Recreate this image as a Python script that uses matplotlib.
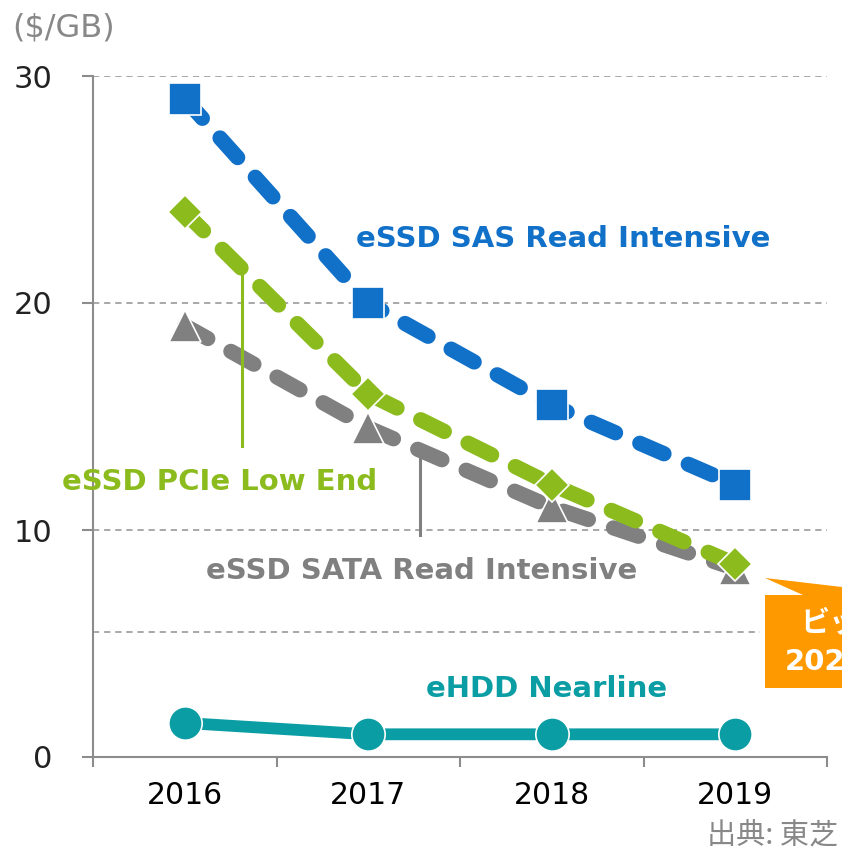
import numpy as np
import matplotlib.pyplot as plt
from matplotlib.patches import Polygon

plt.rcParams['font.family'] = ['DejaVu Sans', 'Noto Sans CJK JP']
plt.rcParams['lines.scale_dashes'] = False

# data
years = ['2016', '2017', '2018', '2019']
sas_read = [29.0, 20.0, 15.5, 12.0]
pcie_low = [24.0, 16.0, 12.0, 8.5]
sata_read = [19.0, 14.5, 11.0, 8.3]
hdd_nearline = [1.5, 1.0, 1.0, 1.0]
y_ticks = [0, 10, 20, 30]

blue = '#1170C8'
green = '#8CBB1E'
gray = '#808080'
teal = '#0A9DA4'
orange = '#FF9900'

fig = plt.figure(figsize=(8.42, 8.5), dpi=100)
ax = fig.add_axes([93 / 842, 1 - 757 / 850, (827 - 93) / 842, (757 - 76) / 850])
x = np.arange(len(years))

# grid lines
for v in [10, 20, 30]:
    ax.axhline(v, xmin=0, xmax=1, color='#999999', lw=1.2, dashes=(4.5, 3.5), zorder=1)
ax.axhline(5.5, xmin=0, xmax=(760 - 93) / (827 - 93), color='#999999', lw=1.2,
           dashes=(4.5, 3.5), zorder=1)

dash = (19, 19)
ax.plot(x, sata_read, color=gray, lw=11, dashes=dash, dash_capstyle='round', zorder=3)
ax.plot(x, pcie_low, color=green, lw=11, dashes=dash, dash_capstyle='round', zorder=4)
ax.plot(x, sas_read, color=blue, lw=11, dashes=dash, dash_capstyle='round', zorder=5)
ax.plot(x, hdd_nearline, color=teal, lw=8.5, solid_capstyle='butt', zorder=5)

ax.plot(x, sata_read, ls='none', marker='^', ms=23, color=gray, mec='white', mew=1.2, zorder=6, clip_on=False)
ax.plot(x, pcie_low, ls='none', marker='D', ms=17, color=green, mec='white', mew=1.2, zorder=7, clip_on=False)
ax.plot(x, sas_read, ls='none', marker='s', ms=23, color=blue, mec='white', mew=1.2, zorder=8, clip_on=False)
ax.plot(x, hdd_nearline, ls='none', marker='o', ms=24, color=teal, mec='white', mew=1.2, zorder=8, clip_on=False)

# leader lines to labels
ax.plot([0.31, 0.31], [21.7, 13.7], color=green, lw=2.2, zorder=4)
ax.plot([1.28, 1.28], [13.6, 9.8], color=gray, lw=2.2, zorder=4)

lbl_size = 21
ax.text(2.06, 22.8, 'eSSD SAS Read Intensive', color=blue, fontsize=lbl_size, fontweight='bold',
        ha='center', va='center')
ax.text(0.19, 12.1, 'eSSD PCIe Low End', color=green, fontsize=lbl_size, fontweight='bold',
        ha='center', va='center')
ax.text(1.29, 8.2, 'eSSD SATA Read Intensive', color=gray, fontsize=lbl_size, fontweight='bold',
        ha='center', va='center')
ax.text(1.97, 3.0, 'eHDD Nearline', color=teal, fontsize=lbl_size, fontweight='bold',
        ha='center', va='center')

ax.set_xlim(-0.5, 3.5)
ax.set_ylim(0, 30)
ax.set_xticks(x)
ax.set_xticklabels(years)
ax.set_xticks(np.arange(-0.5, 3.6, 1), minor=True)
ax.set_yticks(y_ticks)
ax.tick_params(axis='x', which='major', length=0, pad=17, labelsize=21.5)
ax.tick_params(axis='x', which='minor', length=7, width=1.5, color='#8c8c8c', direction='out')
ax.tick_params(axis='y', length=8, width=1.5, color='#8c8c8c', labelsize=22, pad=21)
for lbl in ax.get_yticklabels():
    lbl.set_color('#222222')
for s in ['top', 'right']:
    ax.spines[s].set_visible(False)
for s in ['left', 'bottom']:
    ax.spines[s].set_color('#8c8c8c')
    ax.spines[s].set_linewidth(1.5)

# orange callout, cut off at the right edge like the original
pts_px = [(765, 578), (842, 587), (842, 688), (765, 688), (765, 595), (803, 595)]
box = Polygon([(px / 842, 1 - py / 850) for px, py in pts_px], closed=True,
              transform=fig.transFigure, facecolor=orange, edgecolor='none', zorder=10)
fig.patches.append(box)
fig.text(800 / 842, 1 - 623 / 850, 'ビット単価', color='white', fontsize=21,
         fontweight='bold', ha='left', va='center', zorder=11,
         family=['Noto Sans CJK JP'])
fig.text(785 / 842, 1 - 662 / 850, '2020年', color='white', fontsize=21,
         fontweight='bold', ha='left', va='center', zorder=11,
         family=['DejaVu Sans', 'Noto Sans CJK JP'])

fig.text(12 / 842, 1 - 28 / 850, '($/GB)', color='#888888', fontsize=23, ha='left', va='center')
fig.text(838 / 842, 1 - 836 / 850, '出典: 東芝', color='#888888', fontsize=21,
         ha='right', va='center', family=['Noto Sans CJK JP', 'DejaVu Sans'])

fig.savefig('out.png', dpi=100)
